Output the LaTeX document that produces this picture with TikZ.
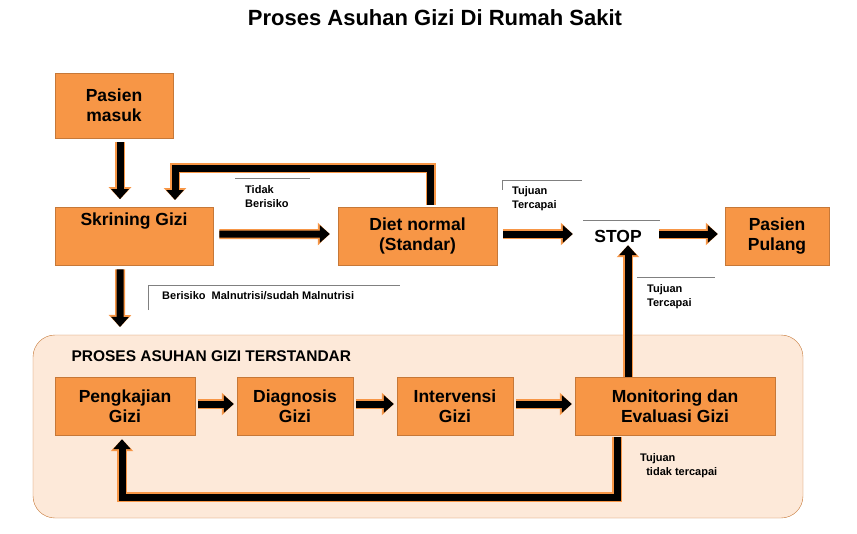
\documentclass[tikz,border=0pt]{standalone}
\usepackage{fontspec}
\setmainfont{Liberation Sans}
\usetikzlibrary{arrows.meta}
\definecolor{boxorange}{HTML}{F79646}
\definecolor{peach}{HTML}{FDE9D9}
\begin{document}
\begin{tikzpicture}[x=1pt, y=-1pt,
    box/.style={draw=boxorange!80!black, fill=boxorange, inner sep=0pt, font=\bfseries\fontsize{17.5}{20}\selectfont, align=center},
    fat/.style={line width=7pt, -{Triangle[length=10pt, width=17pt]}, black,
        preaction={draw=boxorange, line width=10pt, -{Triangle[length=12pt, width=22pt]}}},
    small/.style={font=\bfseries\fontsize{11}{14}\selectfont, align=left, anchor=north west, inner sep=0pt},
    tag/.style={draw=gray, line width=0.4pt}]
    \useasboundingbox (0,0) rectangle (857,533);
    % Title
    \node[font=\bfseries\fontsize{22}{24}\selectfont] (title) at (435,18) {Proses Asuhan Gizi Di Rumah Sakit};
    % Big frame
    \draw[draw=boxorange!80!black, fill=peach, rounded corners=22pt] (33,335) rectangle (803,518);
    \node[anchor=west, font=\bfseries\fontsize{15.5}{17}\selectfont] (frame) at (68,356) {PROSES ASUHAN GIZI TERSTANDAR};
    % Nodes
    \node[box, minimum width=118pt, minimum height=65pt] (masuk) at (114,105.5) {Pasien\\masuk};
    \node[box, minimum width=158pt, minimum height=58pt, anchor=north west] (skrining) at (55,207) {};
    \node[box, draw=none, fill=none, anchor=north] (skrtext) at (134,213) {Skrining Gizi};
    \node[box, minimum width=159pt, minimum height=58pt] (diet) at (417.5,236) {Diet normal\\(Standar)};
    \node[font=\bfseries\fontsize{17.5}{20}\selectfont, minimum height=30pt] (stop) at (618,236) {STOP};
    \node[box, minimum width=104pt, minimum height=58pt] (pulang) at (777,236) {Pasien\\Pulang};
    \node[box, minimum width=140pt, minimum height=58pt] (kaji) at (125,406) {Pengkajian\\Gizi};
    \node[box, minimum width=116pt, minimum height=58pt] (diag) at (295,406) {Diagnosis\\Gizi};
    \node[box, minimum width=116pt, minimum height=58pt] (inter) at (455,406) {Intervensi\\Gizi};
    \node[box, minimum width=200pt, minimum height=58pt] (monev) at (675,406) {Monitoring dan\\Evaluasi Gizi};
    \coordinate (bawah) at (120,327);
    % Edges
    \draw[fat] (masuk.south) ++(6,4) -- ++(0,57);
    \draw[fat] (skrining.south) ++(-14,4) -- (bawah);
    \draw[fat] (diet.north) ++(13,-2) |- (175,168) -- ++(0,32);
    \draw[fat] ([xshift=6pt, yshift=2pt]skrining.east) -- ([xshift=-8pt, yshift=2pt]diet.west);
    \draw[fat] ([xshift=6pt, yshift=2pt]diet.east) -- ([xshift=-18pt, yshift=2pt]stop.west);
    \draw[fat] ([xshift=14pt, yshift=2pt]stop.east) -- ([xshift=-7pt, yshift=2pt]pulang.west);
    \draw[fat] ([xshift=-47pt]monev.north) -- ([xshift=10pt, yshift=6pt]stop.south);
    \draw[fat] ([xshift=3pt, yshift=2pt]kaji.east) -- ([xshift=-3pt, yshift=2pt]diag.west);
    \draw[fat] ([xshift=3pt, yshift=2pt]diag.east) -- ([xshift=-3pt, yshift=2pt]inter.west);
    \draw[fat] ([xshift=3pt, yshift=2pt]inter.east) -- ([xshift=-3pt, yshift=2pt]monev.west);
    \draw[fat] ([xshift=-58pt, yshift=-2pt]monev.south) |- (122,497) -- ([xshift=-3pt, yshift=-4pt]kaji.south);
    % Labels
    \draw[tag] (235,178) -- (310,178);
    \node[small] (tidak) at (245,185) {Tidak\\Berisiko};
    \draw[tag] (148,310) |- (400,285);
    \node[small] (risiko) at (162,291) {Berisiko\ \ Malnutrisi/sudah Malnutrisi};
    \draw[tag] (502,180) -- (582,180);
    \draw[tag] (502,180) -- (502,190);
    \node[small] (capai1) at (512,186) {Tujuan\\Tercapai};
    \draw[tag] (583,220) -- (660,220);
    \draw[tag] (637,277) -- (715,277);
    \node[small] (capai2) at (647,284) {Tujuan\\Tercapai};
    \node[small] (gagal) at (640,453) {Tujuan\\\ \ tidak tercapai};
\end{tikzpicture}
\end{document}
